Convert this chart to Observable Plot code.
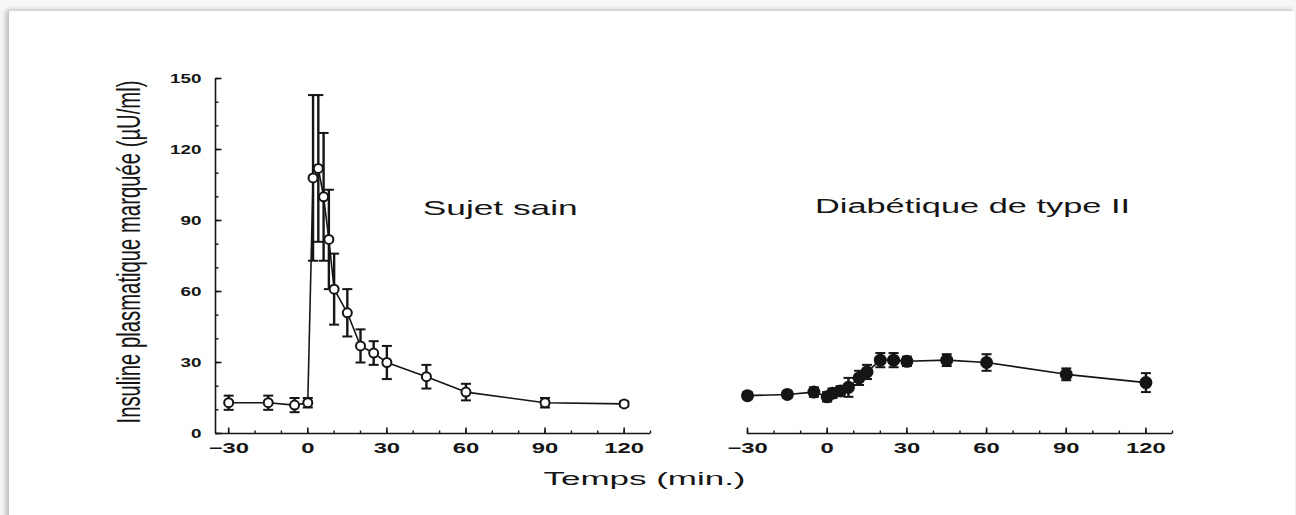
<!DOCTYPE html>
<html><head><meta charset="utf-8">
<script src="https://cdn.jsdelivr.net/npm/d3@7"></script>
<script src="https://cdn.jsdelivr.net/npm/@observablehq/plot@0.6"></script>
<style>
html,body{margin:0;padding:0;background:#f6f6f6;}
#page{position:relative;width:1296px;height:515px;overflow:hidden;background:#f7f7f7;}
#card{position:absolute;left:8px;top:11px;width:1286px;height:530px;background:#fff;border-left:1px solid #c4c4c4;box-shadow:-2px -1px 5px rgba(0,0,0,0.25);}
.layer{position:absolute;left:0;top:0;}
</style></head><body>
<div id="page"><div id="card"></div><div id="left" class="layer"></div><div id="right" class="layer"></div></div>
<script>
// ---- data ----
const tSain = [-30, -15, -5, 0, 2, 4, 6, 8, 10, 15, 20, 25, 30, 45, 60, 90, 120];
const vSain = [13, 13, 12, 13, 108, 112, 100, 82, 61, 51, 37, 34, 30, 24, 17.5, 13, 12.5];
const eSain = [3, 3, 3, 2, 35, 31, 27, 21, 15, 10, 7, 5, 7, 5, 3.5, 2, 1];

const tDiab = [-30, -15, -5, 0, 2, 5, 8, 12, 15, 20, 25, 30, 45, 60, 90, 120];
const vDiab = [16, 16.5, 17.5, 15.5, 17, 18, 19.5, 23.5, 26, 31, 31, 30.5, 31, 30, 25, 21.5];
const eDiab = [1.5, 1.5, 2, 2, 2, 2, 4, 3, 3, 3, 3, 2, 2.5, 3.5, 2.5, 4];

const xTicks = [-30, 0, 30, 60, 90, 120];
const yTicks = [0, 30, 60, 90, 120, 150];
const xMinor = [-30, -20, -10, 0, 10, 20, 30, 40, 50, 60, 70, 80, 90, 100, 110, 120, 130];
const yMinor = [0, 10, 20, 30, 40, 50, 60, 70, 80, 90, 100, 110, 120, 130, 140, 150];

const titleSain = "Sujet sain";
const titleDiab = "Diabétique de type II";
const yTitle = "Insuline plasmatique marquée (µU/ml)";
const xTitle = "Temps (min.)";

const sain = tSain.map((t, i) => ({t, v: vSain[i], e: eSain[i]}));
const diab = tDiab.map((t, i) => ({t, v: vDiab[i], e: eDiab[i]}));

// ---- helpers ----
const W = 1296, H = 515;
const ink = "#151515";
const font = "'Liberation Sans', Arial, Helvetica, sans-serif";
const vtick = {draw(ctx, size) { const r = Math.sqrt(size / Math.PI); ctx.moveTo(0, 0); ctx.lineTo(0, -r); }};
const htick = {draw(ctx, size) { const r = Math.sqrt(size / Math.PI); ctx.moveTo(0, 0); ctx.lineTo(r, 0); }};
const cap = {draw(ctx, size) { const r = Math.sqrt(size / Math.PI); ctx.moveTo(-r, 0); ctx.lineTo(r, 0); }};

function seriesMarks(data, filled) {
  return [
    Plot.ruleX(data, {x: "t", y1: d => d.v - d.e, y2: d => d.v + d.e, stroke: ink, strokeWidth: 2.4}),
    Plot.dot(data, {x: "t", y: d => d.v + d.e, symbol: cap, r: 5, stroke: ink, strokeWidth: 2}),
    Plot.dot(data, {x: "t", y: d => d.v - d.e, symbol: cap, r: 5, stroke: ink, strokeWidth: 2}),
    Plot.line(data, {x: "t", y: "v", stroke: ink, strokeWidth: 1.6}),
    Plot.dot(data, {x: "t", y: "v", r: filled ? 5.5 : 4.5, fill: filled ? ink : "white", stroke: ink, strokeWidth: 2})
  ];
}

function xAxisMarks() {
  return [
    Plot.ruleY([0], {stroke: ink, strokeWidth: 1.6}),
    Plot.dot(xMinor, {x: d => d, y: () => 0, symbol: vtick, r: 3, stroke: ink, strokeWidth: 1.4}),
    Plot.dot(xTicks, {x: d => d, y: () => 0, symbol: vtick, r: 6, stroke: ink, strokeWidth: 1.6}),
    Plot.axisX({ticks: xTicks, tickSize: 0, tickPadding: 10, fontSize: 14, fontWeight: "bold"})
  ];
}

const left = Plot.plot({
  width: W, height: H,
  marginLeft: 215, marginRight: W - 650, marginTop: 78, marginBottom: 82,
  x: {domain: [-35, 130], label: null},
  y: {domain: [0, 150], label: null},
  style: {background: "transparent", overflow: "visible", fontFamily: font, color: ink},
  marks: [
    ...xAxisMarks(),
    Plot.ruleX([-35], {stroke: ink, strokeWidth: 1.6}),
    Plot.dot(yMinor, {x: () => -35, y: d => d, symbol: htick, r: 3, stroke: ink, strokeWidth: 1.4}),
    Plot.dot(yTicks, {x: () => -35, y: d => d, symbol: htick, r: 6, stroke: ink, strokeWidth: 1.6}),
    Plot.axisY({ticks: yTicks, tickSize: 0, tickPadding: 14, fontSize: 13, fontWeight: "bold"}),
    ...seriesMarks(sain, false),
    Plot.text([titleSain], {x: () => 73, y: () => 95, fontSize: 21, fill: ink, textAnchor: "middle"}),
    Plot.text([yTitle], {frameAnchor: "left", dx: -86, dy: -4, rotate: -90, fontSize: 20, fill: ink, textAnchor: "middle"}),
    Plot.text([xTitle], {frameAnchor: "bottom-left", dx: 429, dy: 51, fontSize: 18, fill: ink, textAnchor: "middle"})
  ]
});

const right = Plot.plot({
  width: W, height: H,
  marginLeft: 747, marginRight: W - 1172, marginTop: 78, marginBottom: 82,
  x: {domain: [-30, 130], label: null},
  y: {domain: [0, 150], axis: null, label: null},
  style: {background: "transparent", overflow: "visible", fontFamily: font, color: ink},
  marks: [
    ...xAxisMarks(),
    ...seriesMarks(diab, true),
    Plot.text([titleDiab], {x: () => 54.7, y: () => 96, fontSize: 20, fill: ink, textAnchor: "middle"})
  ]
});

document.getElementById("left").append(left);
document.getElementById("right").append(right);

function fit(svg, label, fn) {
  svg.querySelectorAll(`g[aria-label="${label}"] text`).forEach(el => {
    const w = el.getComputedTextLength();
    el.setAttribute("textLength", fn(w));
    el.setAttribute("lengthAdjust", "spacingAndGlyphs");
  });
}
function fitText(svg, str, len, glyphScale) {
  svg.querySelectorAll("text").forEach(el => {
    if (el.textContent === str) {
      el.setAttribute("textLength", len);
      el.setAttribute("lengthAdjust", "spacingAndGlyphs");
      if (glyphScale) el.setAttribute("transform", (el.getAttribute("transform") || "") + ` scale(1,${glyphScale})`);
    }
  });
}
for (const svg of [left, right]) fit(svg, "x-axis tick label", w => w * 1.7);
fit(left, "y-axis tick label", w => w * 1.45);
fitText(left, titleSain, 155);
fitText(right, titleDiab, 315);
fitText(left, yTitle, 343, 1.65);
fitText(left, xTitle, 202);
</script>
</body></html>
